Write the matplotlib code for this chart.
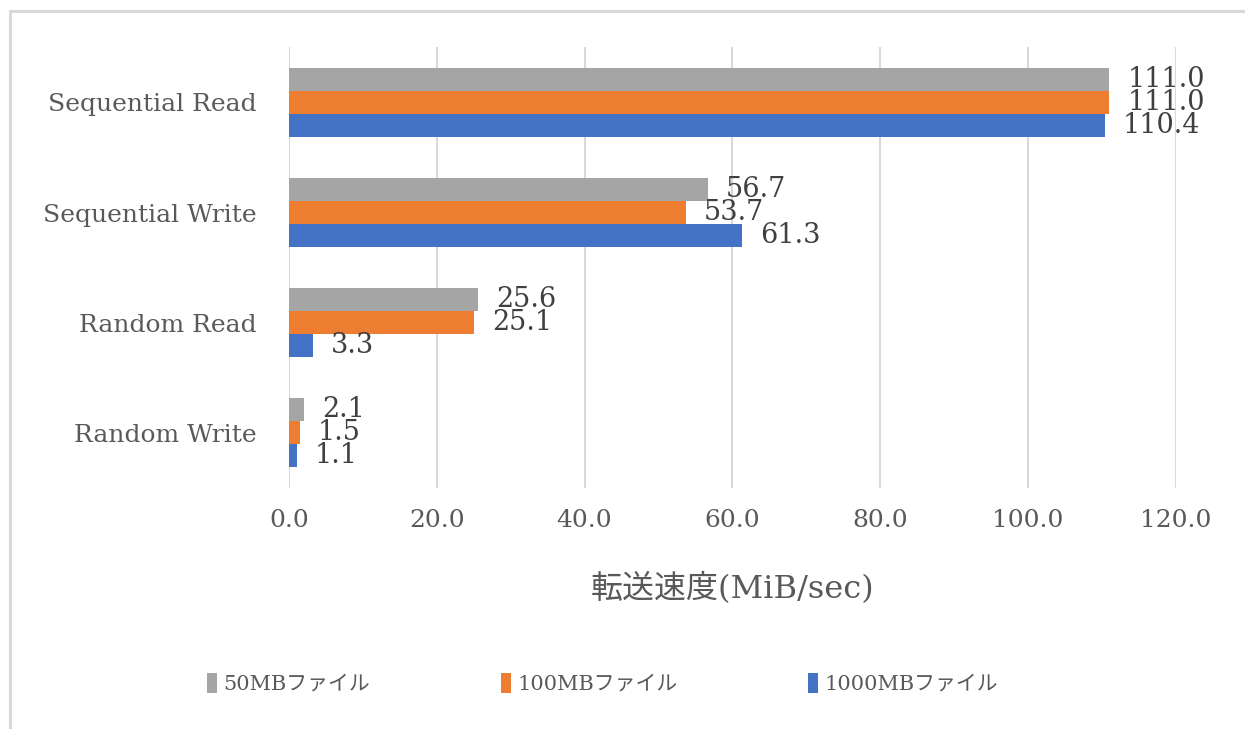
import matplotlib.pyplot as plt
import numpy as np
from matplotlib.patches import Rectangle

plt.rcParams['font.family'] = ['DejaVu Serif', 'Noto Sans CJK JP']

# data
categories = ['Sequential Read', 'Sequential Write', 'Random Read', 'Random Write']
series = ['50MBファイル', '100MBファイル', '1000MBファイル']
mb50 = [111.0, 56.7, 25.6, 2.1]
mb100 = [111.0, 53.7, 25.1, 1.5]
mb1000 = [110.4, 61.3, 3.3, 1.1]
colors = ['#A5A5A5', '#ED7D31', '#4472C4']
x_ticks = [0, 20, 40, 60, 80, 100, 120]

fig = plt.figure(figsize=(12.45, 7.29), dpi=100)
ax = fig.add_axes([0.232, 0.331, 0.7125, 0.604])

y = np.arange(len(categories))
h = 0.208
for i, (vals, name, c) in enumerate(zip([mb50, mb100, mb1000], series, colors)):
    bars = ax.barh(y + (i - 1) * h, vals, height=h, color=c, label=name, zorder=3)
    ax.bar_label(bars, fmt='%.1f', padding=13, fontsize=19.5, color='#404040')

ax.set_ylim(3.5, -0.5)
ax.set_xlim(0, 120)
ax.set_xticks(x_ticks)
ax.set_xticklabels([f'{t:.1f}' for t in x_ticks])
ax.set_yticks(y)
ax.set_yticklabels(categories)
ax.tick_params(axis='x', length=0, pad=15, labelsize=18, labelcolor='#595959')
ax.tick_params(axis='y', length=0, pad=23, labelsize=18, labelcolor='#595959')
ax.grid(axis='x', color='#D9D9D9', linewidth=1.5, zorder=0)
for s in ax.spines.values():
    s.set_visible(False)

ax.set_xlabel('転送速度(MiB/sec)', fontsize=23, color='#595959', labelpad=30)

leg = fig.legend(loc='center', bbox_to_anchor=(0.484, 0.063), ncol=3, frameon=False,
                 fontsize=15, labelcolor='#595959', handlelength=0.5, handleheight=1.1,
                 handletextpad=0.3, columnspacing=6.25)

# outer frame (top and left visible)
fig.patches.append(Rectangle((9.5 / 1245, -0.05), 1.1, 1.05 - 10.5 / 729,
                             transform=fig.transFigure, fill=False,
                             edgecolor='#D9D9D9', linewidth=2.2, clip_on=False))

fig.savefig('out.png', dpi=100)
